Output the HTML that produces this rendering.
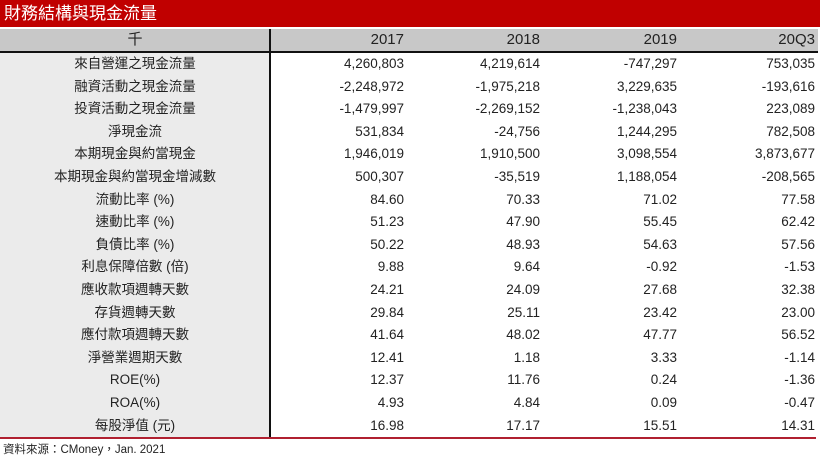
<!DOCTYPE html>
<html><head><meta charset="utf-8"><style>
body{margin:0;width:820px;height:457px;background:#fff;font-family:"Liberation Sans","Noto Sans CJK TC",sans-serif;overflow:hidden;position:relative}
#title{position:absolute;left:0;top:0;width:820px;height:27px;background:#c00000;color:#fff;font-size:17px;line-height:27px;padding-left:4px;box-sizing:border-box}
#hdr{position:absolute;left:0;top:29px;width:818px;height:22px;background:#c8c8c8;border-bottom:2px solid #111}
#firstcol{position:absolute;left:0;top:53px;width:270px;height:385px;background:#ebebeb}
#vline{position:absolute;left:269px;top:29px;width:2px;height:409px;background:#111}
#bline{position:absolute;left:0;top:437px;width:816px;height:2px;background:#b02030}
.row{position:absolute;left:0;width:820px;height:21.4px;font-size:13.5px;color:#222}
.c{position:absolute;top:0;line-height:21.4px;white-space:nowrap}
.lab{left:0;width:270px;text-align:center}
.v{text-align:right;width:120px}
#src{position:absolute;left:3px;top:441px;font-size:11.5px;color:#222}
</style></head><body>
<div id="title">財務結構與現金流量</div>
<div id="hdr"></div>
<div id="firstcol"></div>
<div id="tbody"></div>
<div id="vline"></div>
<div id="bline"></div>
<div id="src">資料來源：CMoney，Jan. 2021</div>
<script>
const headers=["千","2017","2018","2019","20Q3"];
const labels=["來自營運之現金流量","融資活動之現金流量","投資活動之現金流量","淨現金流","本期現金與約當現金","本期現金與約當現金增減數","流動比率 (%)","速動比率 (%)","負債比率 (%)","利息保障倍數 (倍)","應收款項週轉天數","存貨週轉天數","應付款項週轉天數","淨營業週期天數","ROE(%)","ROA(%)","每股淨值 (元)"];
const col2017=["4,260,803","-2,248,972","-1,479,997","531,834","1,946,019","500,307","84.60","51.23","50.22","9.88","24.21","29.84","41.64","12.41","12.37","4.93","16.98"];
const col2018=["4,219,614","-1,975,218","-2,269,152","-24,756","1,910,500","-35,519","70.33","47.90","48.93","9.64","24.09","25.11","48.02","1.18","11.76","4.84","17.17"];
const col2019=["-747,297","3,229,635","-1,238,043","1,244,295","3,098,554","1,188,054","71.02","55.45","54.63","-0.92","27.68","23.42","47.77","3.33","0.24","0.09","15.51"];
const col20Q3=["753,035","-193,616","223,089","782,508","3,873,677","-208,565","77.58","62.42","57.56","-1.53","32.38","23.00","56.52","-1.14","-1.36","-0.47","14.31"];
const cols=[col2017,col2018,col2019,col20Q3];
const rights=[404,540,677,815];
const body=document.getElementById('tbody');
function mk(top,cells,isHdr,name){
  const r=document.createElement('div');r.className='row';r.style.top=top+'px';
  
  
  if(isHdr){r.style.fontSize='15px';r.style.height='22px';}
  const l=document.createElement('div');l.className='c lab';l.textContent=cells[0];
  if(isHdr)l.style.lineHeight='22px';
  
  
  r.appendChild(l);
  for(let i=0;i<4;i++){const d=document.createElement('div');d.className='c v';d.style.left=(rights[i]-120)+'px';d.textContent=cells[i+1];
    if(isHdr)d.style.lineHeight='22px';
    
    
    r.appendChild(d);}
  body.appendChild(r);
}
mk(29,headers,true,'header-cells');
labels.forEach((lb,j)=>mk(53+j*22.6,[lb,col2017[j],col2018[j],col2019[j],col20Q3[j]],false,'data-row'));
</script>
</body></html>
